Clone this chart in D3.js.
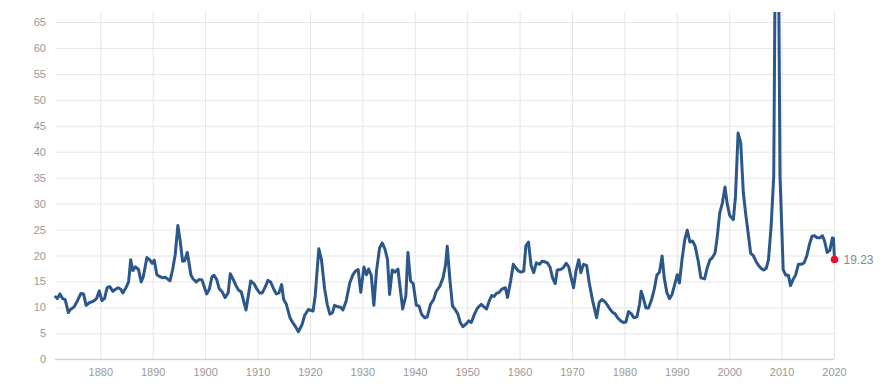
<!DOCTYPE html>
<html>
<head>
<meta charset="utf-8">
<script src="https://cdn.jsdelivr.net/npm/d3@7"></script>
<style>
html,body{margin:0;padding:0;background:#fff;}
svg{display:block;font-family:"Liberation Sans",Arial,sans-serif;}
</style>
</head>
<body>
<svg id="chart" width="890" height="384"></svg>
<script>
const years = [
1871.47,1871.8,1872.3,1872.8,1873.3,1873.9,1874.3,1875.0,1875.6,1876.3,1876.8,1877.3,1877.9,1878.7,1879.3,1879.8,
1880.3,1880.8,1881.3,1881.8,1882.4,1882.9,1883.4,1883.9,1884.3,1884.9,1885.4,1885.8,1886.2,1886.7,1887.3,1887.8,
1888.2,1888.9,1889.4,1889.9,1890.3,1890.8,1891.4,1892.0,1892.4,1892.8,1893.3,1893.8,1894.3,1894.8,1895.2,
1895.7,1896.1,1896.6,1897.3,1897.7,1898.3,1898.9,1899.4,1900.3,1900.8,1901.3,1901.7,1902.2,1902.7,1903.2,1903.8,
1904.4,1904.8,1905.4,1905.9,1906.4,1906.9,1907.8,1908.2,1908.7,1909.3,1909.9,1910.4,1910.9,1911.5,1912.0,1912.5,
1913.1,1913.6,1914.1,1914.6,1915.0,1915.5,1916.2,1916.7,1917.3,1917.8,1918.5,1919.0,1919.7,
1920.6,1921.0,1921.7,1922.2,1922.8,1923.3,1923.8,1924.3,1924.7,1925.4,1925.8,1926.3,1926.9,1927.6,1928.2,1928.7,
1929.2,1929.7,1930.3,1930.8,1931.2,1931.7,1932.2,1932.7,1933.3,1933.8,1934.3,1934.8,1935.2,1935.7,1936.2,1936.8,
1937.1,1937.7,1938.3,1938.7,1939.2,1939.7,1940.3,1940.8,1941.3,1941.9,1942.4,1943.0,1943.6,1944.1,1944.8,
1945.4,1945.9,1946.2,1946.7,1947.2,1947.7,1948.2,1948.7,1949.2,1949.7,1950.3,1950.8,1951.4,1952.0,1952.7,1953.2,
1953.7,1954.2,1954.7,1955.1,1955.6,1956.1,1956.6,1957.3,1957.7,1958.3,1958.8,1959.3,1959.8,1960.3,1960.8,1961.2,
1961.7,1962.2,1962.7,1963.2,1963.8,1964.3,1964.8,1965.3,1965.8,1966.3,1966.8,1967.2,1967.8,1968.3,1968.9,1969.4,1969.7,
1970.3,1970.8,1971.3,1971.7,1972.2,1972.8,1973.3,1973.9,1974.7,1975.2,1975.7,1976.2,1976.8,1977.3,1977.8,1978.2,
1978.7,1979.3,1979.8,1980.3,1980.8,1981.3,1981.8,1982.4,1982.9,1983.2,1983.6,1984.1,1984.6,1985.2,1985.7,1986.2,
1986.7,1987.2,1987.6,1988.1,1988.6,1989.1,1989.6,1990.1,1990.5,1991.0,1991.5,1992.0,1992.5,1993.0,1993.5,1994.1,1994.6,
1995.3,1995.8,1996.3,1996.8,1997.3,1997.7,1998.2,1998.7,1999.2,1999.6,2000.1,2000.8,2001.2,2001.7,2002.2,2002.7,
2003.2,2003.7,2004.1,2004.6,2005.1,2005.6,2006.1,2006.6,2007.1,2007.5,2008.0,2008.5,2009.1,2009.7,2010.3,2010.8,
2011.3,2011.7,2012.2,2012.7,2013.2,2013.8,2014.3,2014.8,2015.3,2015.8,2016.3,2016.8,2017.3,2017.8,2018.2,2018.7,
2019.2,2019.7,2019.9,2020.1
];
const peValues = [
12.05,11.7,12.6,11.7,11.5,9.0,9.6,10.1,11.2,12.7,12.6,10.4,10.9,11.2,11.7,13.2,
11.3,11.7,13.8,14.0,13.1,13.5,13.8,13.5,12.8,13.8,14.9,19.2,17.1,17.8,17.3,14.9,
15.9,19.6,19.2,18.5,19.1,16.3,15.9,15.7,15.8,15.5,15.1,17.3,20.2,25.8,23.1,
18.9,19.0,20.6,16.2,15.5,14.9,15.4,15.3,12.6,13.5,15.9,16.2,15.4,13.6,13.1,11.9,
12.8,16.5,15.3,14.2,13.3,13.0,9.5,12.0,15.1,14.6,13.5,12.8,12.8,14.0,15.2,14.9,
13.5,12.6,12.8,14.4,11.5,10.6,8.0,7.1,6.2,5.3,6.7,8.5,9.6,
9.3,12.2,21.3,19.2,13.6,10.6,8.7,9.0,10.4,10.1,10.1,9.5,11.2,14.7,16.3,17.0,
17.3,12.9,17.8,16.3,17.4,16.2,10.4,17.0,21.5,22.4,21.3,19.2,12.5,17.2,16.8,17.4,
14.7,9.7,12.2,20.6,15.1,14.6,10.4,10.3,8.7,8.0,8.2,10.6,11.5,13.1,14.1,
15.7,18.3,21.8,15.4,10.3,9.6,8.8,7.1,6.3,6.7,7.4,7.1,8.7,9.9,10.6,10.1,
9.7,11.2,12.3,12.1,12.7,12.9,13.5,13.8,11.9,15.1,18.3,17.6,17.0,16.8,17.0,21.8,
22.6,18.1,16.7,18.6,18.3,18.9,18.8,18.6,17.8,15.7,14.6,17.2,17.3,17.6,18.5,17.8,16.3,
13.8,17.2,19.2,16.7,18.3,18.1,14.7,11.5,8.0,11.0,11.5,11.2,10.4,9.6,9.0,8.8,
8.0,7.4,7.1,7.2,9.2,8.8,8.0,8.2,10.6,13.1,11.9,9.9,9.9,11.5,13.5,16.2,
16.8,19.9,15.7,12.9,11.7,12.5,14.4,16.3,14.7,19.2,22.9,24.9,22.6,22.8,21.8,18.9,15.7,
15.5,17.6,19.1,19.6,20.5,23.4,28.2,30.1,33.2,30.1,27.7,26.9,31.4,43.6,41.7,32.1,
27.6,23.7,20.4,20.0,18.9,18.1,17.5,17.2,17.6,19.2,25.6,35.3,123.73,35.3,17.3,16.2,
16.2,14.2,15.4,16.3,18.3,18.3,18.6,19.9,22.1,23.7,23.8,23.4,23.4,23.8,22.8,20.6,
21.0,23.4,23.3,19.23
];
const yTicks = [0,5,10,15,20,25,30,35,40,45,50,55,60,65];
const xTicks = [1880,1890,1900,1910,1920,1930,1940,1950,1960,1970,1980,1990,2000,2010,2020];
const lastLabel = "19.23";

const data = years.map((y,i)=>({year:y, value:peValues[i]}));
const svg = d3.select("#chart");
const plotLeft = 55, plotRight = 834, plotTop = 12, plotBottom = 359.3;

const x = d3.scaleLinear().domain([1880,2020]).range([100.3,834]);
const y = d3.scaleLinear().domain([0,65]).range([359.3,22]);

// horizontal grid
const yAxis = d3.axisLeft(y).tickValues(yTicks).tickSize(-(plotRight-plotLeft)).tickPadding(9);
const gy = svg.append("g").attr("transform",`translate(${plotLeft},0)`).call(yAxis);
gy.select(".domain").remove();
gy.selectAll(".tick line").attr("stroke","#e6e6e6").attr("stroke-width",1);
gy.selectAll(".tick text").attr("fill","#999").attr("font-size","11px")
  .attr("font-family","'Liberation Sans',Arial,sans-serif");

// vertical grid
const xGrid = d3.axisBottom(x).tickValues(xTicks).tickSize(-(plotBottom-plotTop)).tickFormat("");
const gxg = svg.append("g").attr("transform",`translate(0,${plotBottom})`).call(xGrid);
gxg.select(".domain").remove();
gxg.selectAll(".tick line").attr("stroke","#e6e6e6").attr("stroke-width",1);

// x axis labels
const xAxis = d3.axisBottom(x).tickValues(xTicks).tickSize(0).tickPadding(9).tickFormat(d3.format("d"));
const gx = svg.append("g").attr("transform",`translate(0,${plotBottom})`).call(xAxis);
gx.select(".domain").remove();
gx.selectAll(".tick text").attr("fill","#999").attr("font-size","11px")
  .attr("font-family","'Liberation Sans',Arial,sans-serif");

// axis line
svg.append("line").attr("x1",plotLeft).attr("x2",plotRight)
  .attr("y1",plotBottom).attr("y2",plotBottom).attr("stroke","#cccccc").attr("stroke-width",1);

// clip
svg.append("clipPath").attr("id","clip").append("rect")
  .attr("x",0).attr("y",plotTop).attr("width",890).attr("height",384-plotTop);

const line = d3.line().x(d=>x(d.year)).y(d=>y(d.value));
svg.append("path").datum(data)
  .attr("clip-path","url(#clip)")
  .attr("fill","none").attr("stroke","#2c578b").attr("stroke-width",3)
  .attr("stroke-linejoin","round").attr("stroke-linecap","round")
  .attr("d",line);

const last = data[data.length-1];
svg.append("circle").attr("cx",x(last.year)).attr("cy",y(last.value))
  .attr("r",3.8).attr("fill","#e8102e");
svg.append("text").attr("x",x(last.year)+9).attr("y",y(last.value))
  .attr("dy","0.35em").attr("fill","#888").attr("font-size","12px")
  .attr("font-family","'Liberation Sans',Arial,sans-serif").text(lastLabel);
</script>
</body>
</html>
